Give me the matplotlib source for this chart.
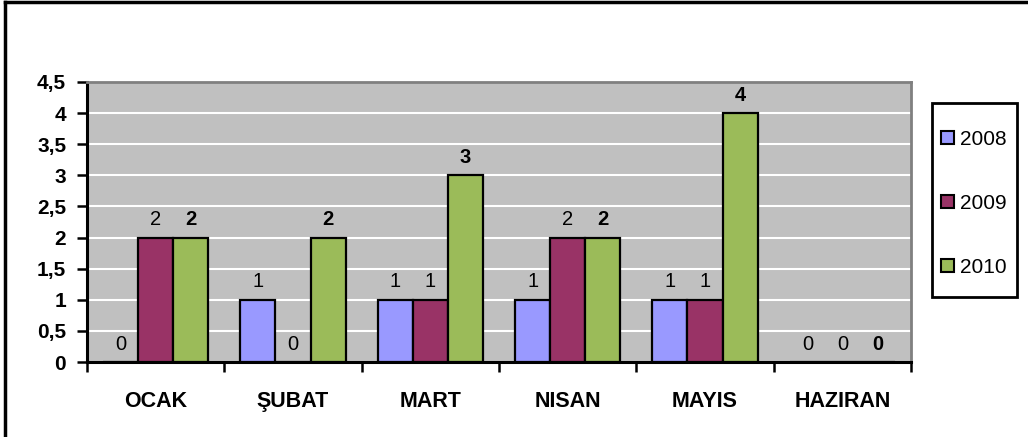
import matplotlib
matplotlib.use("Agg")
import matplotlib.pyplot as plt
import numpy as np
from matplotlib.ticker import FuncFormatter, MultipleLocator, FixedLocator
from matplotlib.lines import Line2D
from matplotlib.patches import Rectangle

plt.rcParams['font.family'] = ['Liberation Sans', 'DejaVu Sans']

categories = ["OCAK", "ŞUBAT", "MART", "NISAN", "MAYIS", "HAZIRAN"]
series_names = ["2008", "2009", "2010"]
v2008 = [0, 1, 1, 1, 1, 0]
v2009 = [2, 0, 1, 2, 1, 0]
v2010 = [2, 2, 3, 2, 4, 0]
values = [v2008, v2009, v2010]
colors = ["#9999FF", "#993366", "#9BBB59"]
label_bold = [False, False, True]

W, H = 1028, 437
fig = plt.figure(figsize=(W / 100, H / 100), dpi=100)
ax = fig.add_axes([87 / W, 1 - 362 / H, (911 - 87) / W, (362 - 82) / H])
ax.set_facecolor("#C0C0C0")

x = np.arange(len(categories))
bw = 0.255
handles = []
for i, (name, vals, col, bold) in enumerate(zip(series_names, values, colors, label_bold)):
    pos = x + (i - 1) * bw
    bars = ax.bar(pos, vals, width=bw, color=col, edgecolor="black", linewidth=1.6,
                  label=name, zorder=3)
    handles.append(bars)
    for p, v in zip(pos, vals):
        ax.annotate(str(v), (p, v), xytext=(0, 6), textcoords="offset points",
                    ha="center", va="bottom", fontsize=14.5,
                    fontweight="bold" if bold else "normal", color="black", zorder=4)

ax.set_xlim(-0.5, len(categories) - 0.5)
ax.set_ylim(0, 4.5)
ax.yaxis.set_major_locator(MultipleLocator(0.5))
ax.yaxis.set_major_formatter(FuncFormatter(lambda v, p: ("%g" % v).replace(".", ",")))
ax.grid(axis="y", color="white", linewidth=1.5, zorder=0)
ax.set_axisbelow(True)

ax.set_xticks(x)
ax.set_xticklabels(categories, fontsize=15.5, fontweight="bold")
ax.xaxis.set_minor_locator(FixedLocator(np.arange(-0.5, len(categories), 1.0)))
ax.tick_params(axis="x", which="major", length=0, pad=21)
ax.tick_params(axis="x", which="minor", length=7, width=1.8, direction="out", color="black")
ax.tick_params(axis="y", which="major", length=7, width=1.8, direction="out",
               labelsize=15, pad=8)
for t in ax.get_yticklabels():
    t.set_fontweight("bold")

ax.spines["left"].set_linewidth(2.2)
ax.spines["bottom"].set_linewidth(2.2)
ax.spines["left"].set_color("black")
ax.spines["bottom"].set_color("black")
ax.spines["top"].set_color("#808080")
ax.spines["right"].set_color("#808080")
ax.spines["top"].set_linewidth(2)
ax.spines["right"].set_linewidth(2)

# legend box
fig.add_artist(Rectangle((932 / W, 1 - 297 / H), (1017 - 932) / W, (297 - 103) / H,
                         transform=fig.transFigure, facecolor="white",
                         edgecolor="black", linewidth=2, zorder=1))
leg = fig.legend(handles=handles, labels=series_names,
                 loc="upper left", bbox_to_anchor=(941 / W, 1 - 130 / H),
                 fontsize=15, frameon=False,
                 handlelength=0.6, handleheight=0.6, handletextpad=0.3,
                 labelspacing=2.15, borderpad=0, borderaxespad=0)
leg.set_zorder(2)
for h in leg.legend_handles:
    h.set_linewidth(1.5)

# outer chart border (top & left visible)
fig.add_artist(Line2D([5 / W, 5 / W], [0, 1 - 2 / H], color="black", linewidth=2.5,
                      transform=fig.transFigure))
fig.add_artist(Line2D([5 / W, 1], [1 - 2 / H, 1 - 2 / H], color="black", linewidth=2.5,
                      transform=fig.transFigure))

fig.savefig("out.png", dpi=100)
